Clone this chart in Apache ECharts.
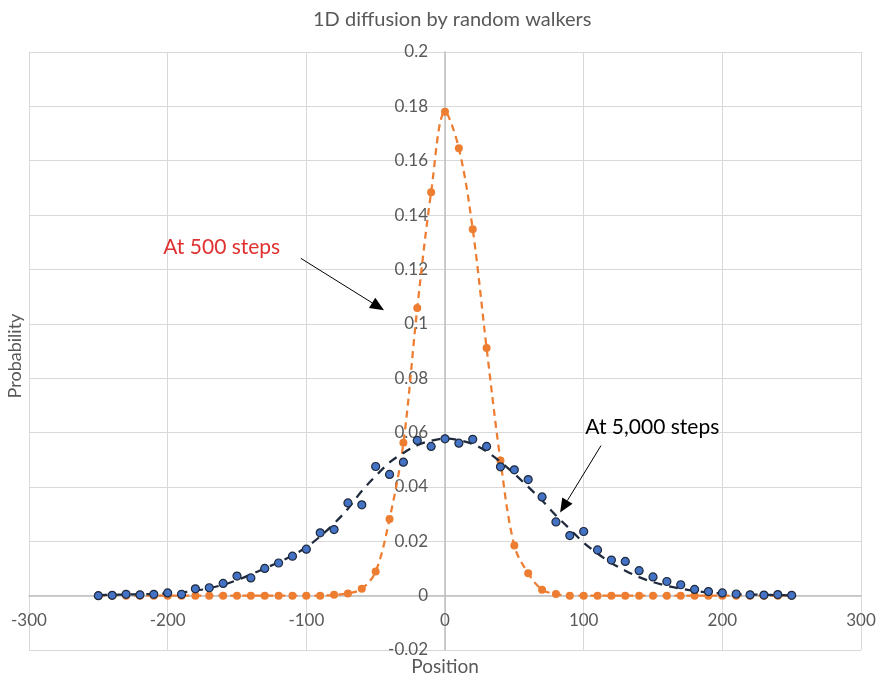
<!DOCTYPE html>
<html>
<head>
<meta charset="utf-8">
<script src="https://cdn.jsdelivr.net/npm/echarts@6/dist/echarts.min.js"></script>
<style>
  html, body { margin: 0; padding: 0; background: #ffffff; }
  #chart { width: 880px; height: 677px; }
</style>
</head>
<body>
<div id="chart"></div>
<script>
// Walker positions (bin centres)
const positions = [-250, -240, -230, -220, -210, -200, -190, -180, -170, -160,
  -150, -140, -130, -120, -110, -100, -90, -80, -70, -60,
  -50, -40, -30, -20, -10, 0, 10, 20, 30, 40,
  50, 60, 70, 80, 90, 100, 110, 120, 130, 140,
  150, 160, 170, 180, 190, 200, 210, 220, 230, 240, 250];

// Simulated probabilities after 500 steps
const walk500 = [0, 0, 0, 0, 0, 0, 0, 0, 0, 0,
  0, 0, 0, 0, 0, 0, 0, 0.0003, 0.0008, 0.0025,
  0.0089, 0.0282, 0.0562, 0.1058, 0.1484, 0.1780, 0.1646, 0.1348, 0.0911, 0.0497,
  0.0184, 0.0082, 0.0022, 0.0006, 0, 0, 0, 0, 0, 0,
  0, 0, 0, 0, 0, 0, 0, 0, 0, 0, 0];

// Simulated probabilities after 5,000 steps
const walk5000 = [0, 0.0001, 0.0005, 0.0003, 0.0005, 0.0010, 0.0005, 0.0025, 0.0029, 0.0045,
  0.0072, 0.0065, 0.0100, 0.0120, 0.0145, 0.0171, 0.0231, 0.0243, 0.0341, 0.0334,
  0.0475, 0.0446, 0.0491, 0.0571, 0.0549, 0.0577, 0.0561, 0.0575, 0.0549, 0.0474,
  0.0463, 0.0427, 0.0363, 0.0271, 0.0221, 0.0236, 0.0168, 0.0131, 0.0126, 0.0092,
  0.0069, 0.0052, 0.0040, 0.0023, 0.0015, 0.0010, 0.0006, 0.0003, 0.0002, 0.0004, 0.0001];

// Smooth trend through the 5,000-step distribution
const trend5000 = [0.0002, 0.0003, 0.0004, 0.0005, 0.0006, 0.0008, 0.0012, 0.0018, 0.0027, 0.0040,
  0.0057, 0.0078, 0.0100, 0.0123, 0.0148, 0.0178, 0.0218, 0.0265, 0.0320, 0.0385,
  0.0440, 0.0490, 0.0525, 0.0553, 0.0570, 0.0578, 0.0572, 0.0558, 0.0530, 0.0492,
  0.0448, 0.0400, 0.0350, 0.0295, 0.0245, 0.0195, 0.0155, 0.0120, 0.0092, 0.0068,
  0.0050, 0.0036, 0.0026, 0.0018, 0.0012, 0.0008, 0.0005, 0.0004, 0.0003, 0.0002, 0.0001];

// Axis ticks
const xTicks = { min: -300, max: 300, step: 100 };
const yTicks = { min: -0.02, max: 0.2, step: 0.02 };

const FONT = "Lato, 'Open Sans', sans-serif";
const GREY = '#595959';
const ORANGE = '#ED7D31';
const BLUE = '#4472C4';
const NAVY = '#1F2A3C';

// Plot area
const W = 880, H = 677;
const GRID = { left: 29, right: 19, top: 52, bottom: 27 };
const plotW = W - GRID.left - GRID.right;
const plotH = H - GRID.top - GRID.bottom;

// Both axes cross at the origin; shift them (with their labels) there
const yAxisShift = plotW * (0 - xTicks.min) / (xTicks.max - xTicks.min);
const xAxisShift = plotH * (0 - yTicks.min) / (yTicks.max - yTicks.min);

const pairs = (xs, ys) => xs.map((x, i) => [x, ys[i]]);

const chart = echarts.init(document.getElementById('chart'), null, { renderer: 'canvas' });

chart.setOption({
  animation: false,
  backgroundColor: '#ffffff',
  textStyle: { fontFamily: FONT },
  title: {
    text: '1D diffusion by random walkers',
    left: 308,
    top: 5,
    textStyle: { fontFamily: FONT, fontSize: 20, fontWeight: 'normal', color: GREY }
  },
  grid: Object.assign({ containLabel: false, outerBoundsMode: 'none' }, GRID),
  xAxis: {
    type: 'value',
    min: xTicks.min, max: xTicks.max, interval: xTicks.step,
    position: 'bottom',
    offset: -xAxisShift,
    axisLine: { onZero: false, lineStyle: { color: '#BFBFBF', width: 1.5 } },
    axisTick: { show: false },
    axisLabel: { color: GREY, fontSize: 17, margin: 16, fontFamily: FONT },
    splitLine: { show: true, lineStyle: { color: '#D9D9D9', width: 1 } }
  },
  yAxis: {
    type: 'value',
    min: yTicks.min, max: yTicks.max, interval: yTicks.step,
    position: 'left',
    offset: -yAxisShift,
    axisLine: { onZero: false, lineStyle: { color: '#BFBFBF', width: 1.5 } },
    axisTick: { show: false },
    axisLabel: {
      color: GREY, fontSize: 17, margin: 17, fontFamily: FONT,
      formatter: v => String(+v.toFixed(2))
    },
    splitLine: { show: true, lineStyle: { color: '#D9D9D9', width: 1 } }
  },
  series: [
    {
      name: 'At 500 steps (trend)',
      type: 'line',
      data: pairs(positions, walk500),
      smooth: 0.35,
      showSymbol: false,
      lineStyle: { color: ORANGE, width: 2.25, type: [7, 5] },
      z: 2
    },
    {
      name: 'At 500 steps',
      type: 'scatter',
      data: pairs(positions, walk500),
      symbolSize: 8,
      itemStyle: { color: ORANGE, opacity: 1 },
      z: 3
    },
    {
      name: 'At 5,000 steps (trend)',
      type: 'line',
      data: pairs(positions, trend5000),
      smooth: 0.35,
      showSymbol: false,
      lineStyle: { color: NAVY, width: 2.25, type: [9, 7] },
      z: 4
    },
    {
      name: 'At 5,000 steps',
      type: 'scatter',
      data: pairs(positions, walk5000),
      symbolSize: 8,
      itemStyle: { color: BLUE, borderColor: NAVY, borderWidth: 1.2, opacity: 1 },
      z: 5
    }
  ]
});

// Annotations positioned in data space
const toPx = p => chart.convertToPixel({ xAxisIndex: 0, yAxisIndex: 0 }, p);

function arrow(from, to, color) {
  const a = toPx(from), b = toPx(to);
  const dx = b[0] - a[0], dy = b[1] - a[1];
  const len = Math.hypot(dx, dy);
  const ux = dx / len, uy = dy / len;
  const headLen = 14, headW = 6;
  const base = [b[0] - ux * headLen, b[1] - uy * headLen];
  return [
    {
      type: 'line',
      shape: { x1: a[0], y1: a[1], x2: base[0], y2: base[1] },
      style: { stroke: color, lineWidth: 1 },
      silent: true
    },
    {
      type: 'polygon',
      shape: { points: [b, [base[0] - uy * headW, base[1] + ux * headW], [base[0] + uy * headW, base[1] - ux * headW]] },
      style: { fill: color },
      silent: true
    }
  ];
}

function label(text, at, color) {
  const p = toPx(at);
  return {
    type: 'text',
    x: p[0], y: p[1],
    style: { text, fill: color, font: '21px ' + FONT, align: 'center', verticalAlign: 'middle' },
    silent: true
  };
}

const plotBottom = toPx([0, yTicks.min])[1];
const plotCentreX = toPx([0, 0])[0];

chart.setOption({
  graphic: [
    label('At 500 steps', [-161, 0.128], '#E03131'),
    ...arrow([-104, 0.1241], [-44, 0.105], '#000000'),
    label('At 5,000 steps', [149.5, 0.0619], '#000000'),
    ...arrow([112.5, 0.0552], [83, 0.0306], '#000000'),
    {
      type: 'text',
      x: plotCentreX, y: plotBottom + 17,
      style: { text: 'Position', fill: GREY, font: '19px ' + FONT, align: 'center', verticalAlign: 'middle' },
      silent: true
    },
    {
      type: 'text',
      x: 15, y: 356, rotation: Math.PI / 2,
      style: { text: 'Probability', fill: GREY, font: '18px ' + FONT, align: 'center', verticalAlign: 'middle' },
      silent: true
    }
  ]
});
</script>
</body>
</html>
